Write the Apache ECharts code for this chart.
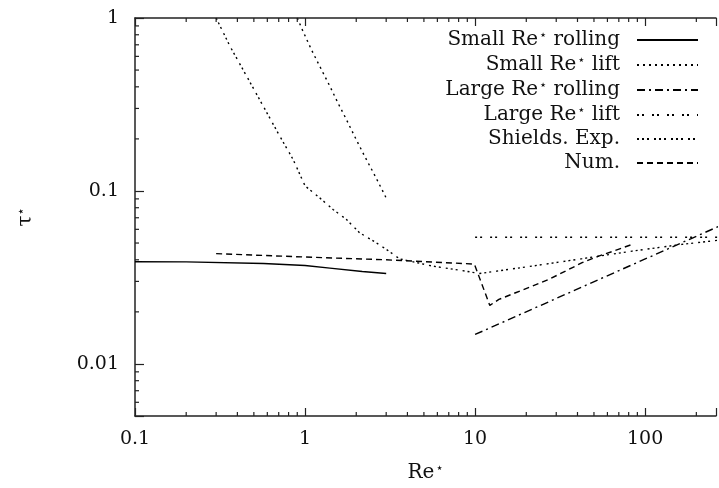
<!DOCTYPE html>
<html>
<head>
<meta charset="utf-8">
<script src="https://cdn.jsdelivr.net/npm/echarts@6/dist/echarts.min.js"></script>
<style>
html,body{margin:0;padding:0;background:#fff;}
#chart{width:719px;height:488px;}
</style>
</head>
<body>
<div id="chart"></div>
<script>
// (log-log)
var smallRollX = [0.1, 0.2, 0.57, 1.0, 1.4, 2.17, 3.0];
var smallRollY = [0.039, 0.0389, 0.0381, 0.0371, 0.0358, 0.0342, 0.0333];

var smallLiftX = [0.9, 0.973, 1.09, 1.22, 1.4, 1.56, 1.75, 2.0, 2.24, 2.56, 2.93, 3.0];
var smallLiftY = [1.0, 0.837, 0.656, 0.526, 0.403, 0.323, 0.259, 0.198, 0.159, 0.124, 0.0955, 0.091];

var largeRollX = [10, 300];
var largeRollY = [0.0148, 0.0653];

var largeLiftX = [10, 300];
var largeLiftY = [0.054, 0.054];

var shieldsX = [0.3, 0.362, 0.454, 0.568, 0.711, 0.851, 1.0, 1.22, 1.46, 1.75, 2.09, 2.62, 3.0, 3.6, 5.6, 8.8, 10.6, 21.7, 42.6, 83.8, 164, 266];
var shieldsY = [1.0, 0.686, 0.46, 0.309, 0.207, 0.152, 0.107, 0.0912, 0.0782, 0.0685, 0.0574, 0.0502, 0.046, 0.0405, 0.0368, 0.0344, 0.0333, 0.0368, 0.0406, 0.0449, 0.0491, 0.0518];

var numX = [0.3, 1.0, 3.0, 9.9, 12.2, 13.8, 17.3, 21.7, 27.1, 34.0, 42.6, 53.3, 66.8, 83.8];
var numY = [0.0434, 0.0415, 0.0400, 0.0378, 0.0218, 0.0236, 0.0258, 0.0282, 0.0308, 0.0344, 0.0385, 0.042, 0.0453, 0.0491];

var xMinorTicks = [0.2,0.3,0.4,0.5,0.6,0.7,0.8,0.9, 2,3,4,5,6,7,8,9, 20,30,40,50,60,70,80,90, 200];
var yMinorTicks = [0.006,0.007,0.008,0.009, 0.02,0.03,0.04,0.05,0.06,0.07,0.08,0.09, 0.2,0.3,0.4,0.5,0.6,0.7,0.8,0.9];

var FONT = 'DejaVu Serif';
var INK = '#111';

function pairs(xs, ys){
	var out = [];
	for(var i = 0; i < xs.length; i++){
		out.push([xs[i], ys[i]]);
	}
	return out;
}

function powLabel(v){
	var l = Math.log10(v);
	if(Math.abs(l - Math.round(l)) > 1e-6) return '';
	return String(Number(v.toPrecision(6)));
}

function lineSeries(name, xs, ys, dash){
	return {
		name: name,
		type: 'line',
		data: pairs(xs, ys),
		symbol: 'none',
		showSymbol: false,
		clip: true,
		lineStyle: {color: '#000', width: 1.4, type: dash},
		itemStyle: {color: '#000'},
		z: 3
	};
}

var rich = {
	a: {fontFamily: FONT, fontSize: 20, color: INK, lineHeight: 22},
	s: {fontFamily: 'DejaVu Sans', fontSize: 13, color: INK, lineHeight: 22, verticalAlign: 'top', padding: [0, 0, 0, 1]},
	g: {width: 12}
};

var myChart = echarts.init(document.getElementById('chart'), null, {renderer: 'canvas'});
myChart.setOption({
	backgroundColor: '#fff',
	animation: false,
	grid: {left: 135, right: 1, top: 18, bottom: 71},
	legend: {
		orient: 'vertical',
		align: 'right',
		right: 20,
		top: 29,
		padding: 0,
		itemGap: 4,
		itemWidth: 61,
		itemHeight: 14,
		selectedMode: false,
		itemStyle: {opacity: 0},
		data: ['Small Re rolling', 'Small Re lift', 'Large Re rolling', 'Large Re lift', 'Shields. Exp.', 'Num.'],
		formatter: function(name){
			if(name.indexOf('Re ') >= 0){
				var parts = name.split('Re ');
				return '{a|' + parts[0] + 'Re}{s|⋆}{a| ' + parts[1] + '}{g| }';
			}
			return '{a|' + name + '}{g| }';
		},
		textStyle: {rich: rich}
	},
	xAxis: [
		{
			type: 'log',
			logBase: 10,
			min: 0.1,
			max: 261,
			position: 'bottom',
			name: '{a|Re}{s|⋆}',
			nameLocation: 'middle',
			nameGap: 46,
			nameTextStyle: {rich: rich},
			axisLine: {show: true, lineStyle: {color: '#222', width: 1.5}},
			axisTick: {show: true, inside: true, length: 8, lineStyle: {color: '#222', width: 1.2}},
			axisLabel: {fontFamily: FONT, fontSize: 19, color: INK, margin: 14, formatter: powLabel, hideOverlap: false},
			splitLine: {show: false},
			minorTick: {show: false}
		},
		{
			type: 'log',
			logBase: 10,
			min: 0.1,
			max: 261,
			position: 'top',
			axisLine: {show: true, lineStyle: {color: '#222', width: 1.5}},
			axisTick: {show: true, inside: true, length: 8, lineStyle: {color: '#222', width: 1.2}},
			axisLabel: {show: false},
			splitLine: {show: false}
		}
	],
	yAxis: {
		type: 'log',
		logBase: 10,
		min: 0.005,
		max: 1,
		name: '{t|τ}{s|⋆}',
		nameLocation: 'middle',
		nameRotate: 90,
		nameGap: 98,
		nameTextStyle: {rich: {
			t: {fontFamily: FONT, fontSize: 20, color: INK, lineHeight: 22},
			s: {fontFamily: 'DejaVu Sans', fontSize: 13, color: INK, lineHeight: 22, verticalAlign: 'top'}
		}},
		axisLine: {show: true, lineStyle: {color: '#222', width: 1.5}},
		axisTick: {show: true, inside: true, length: 9, lineStyle: {color: '#222', width: 1.2}},
		axisLabel: {fontFamily: FONT, fontSize: 19, color: INK, margin: 16, formatter: powLabel},
		splitLine: {show: false}
	},
	series: [
		lineSeries('Small Re rolling', smallRollX, smallRollY, 'solid'),
		lineSeries('Small Re lift', smallLiftX, smallLiftY, [2, 4]),
		lineSeries('Large Re rolling', largeRollX, largeRollY, [8, 4, 2, 4]),
		lineSeries('Large Re lift', largeLiftX, largeLiftY, [2, 3, 2, 8]),
		lineSeries('Shields. Exp.', shieldsX, shieldsY, [2, 3, 2, 3, 2, 5]),
		lineSeries('Num.', numX, numY, [6, 4]),
		{
			// minor ticks on bottom and top edges
			type: 'custom',
			silent: true,
			clip: false,
			z: 4,
			data: xMinorTicks.map(function(v){ return [v, 0.1]; }),
			renderItem: function(params, api){
				var cs = params.coordSys;
				var px = api.coord([api.value(0), api.value(1)])[0];
				var st = {stroke: '#222', lineWidth: 1.2};
				return {type: 'group', children: [
					{type: 'line', shape: {x1: px, y1: cs.y + cs.height, x2: px, y2: cs.y + cs.height - 4}, style: st},
					{type: 'line', shape: {x1: px, y1: cs.y, x2: px, y2: cs.y + 4}, style: st}
				]};
			}
		},
		{
			// minor ticks on left edge
			type: 'custom',
			silent: true,
			clip: false,
			z: 4,
			data: yMinorTicks.map(function(v){ return [1, v]; }),
			renderItem: function(params, api){
				var cs = params.coordSys;
				var py = api.coord([api.value(0), api.value(1)])[1];
				return {type: 'line', shape: {x1: cs.x, y1: py, x2: cs.x + 4, y2: py}, style: {stroke: '#222', lineWidth: 1.2}};
			}
		}
	]
});
</script>
</body>
</html>
